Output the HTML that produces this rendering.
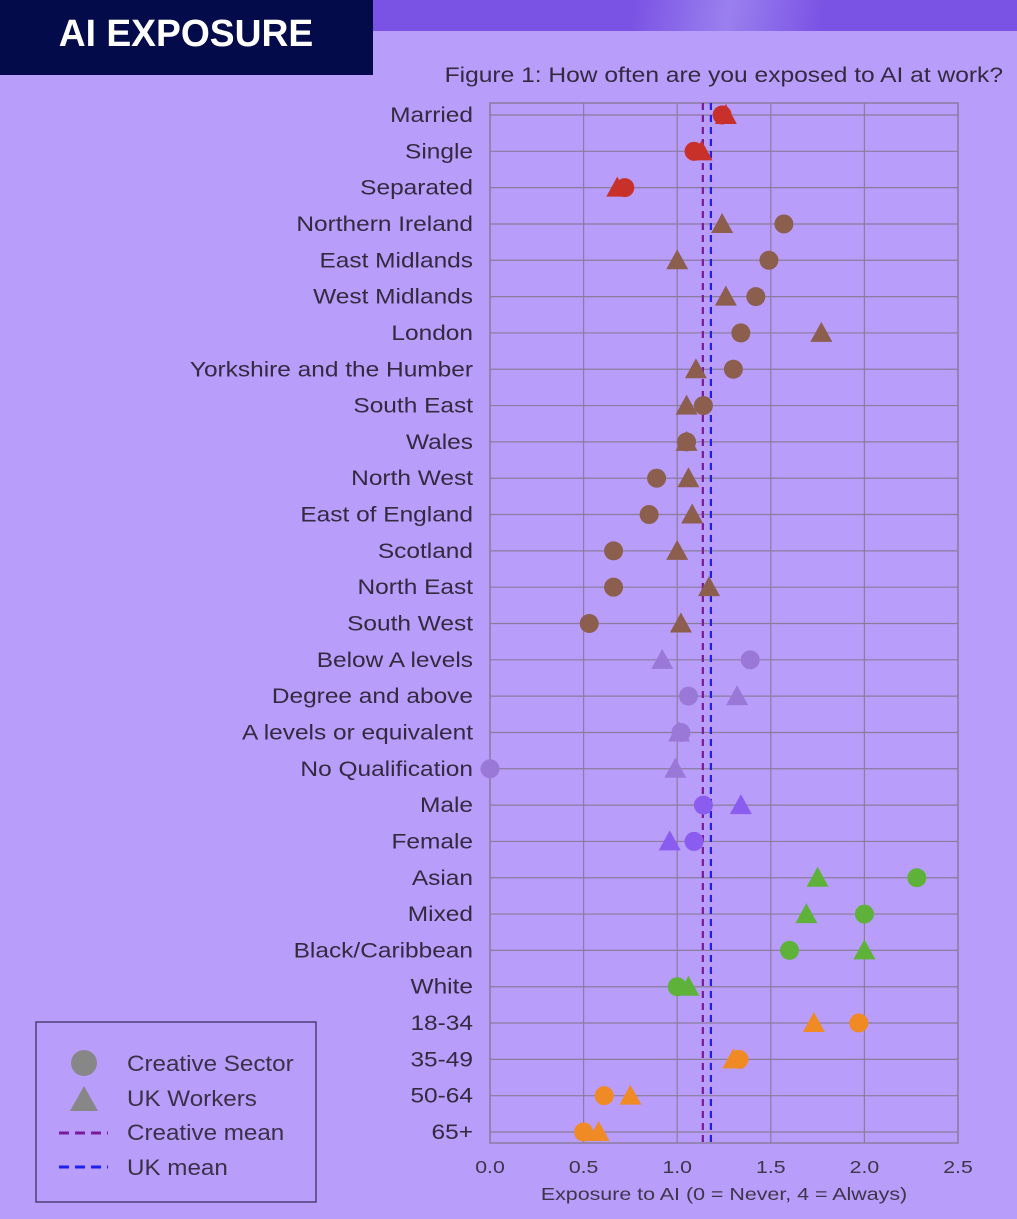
<!DOCTYPE html>
<html><head><meta charset="utf-8">
<style>
html,body{margin:0;padding:0;}
body{width:1017px;height:1219px;background:#b99dfa;position:relative;overflow:hidden;font-family:"Liberation Sans",sans-serif;}
#band{position:absolute;left:373px;top:0;width:644px;height:31px;background:linear-gradient(100deg,#7a52e4 0%,#7a52e4 40%,#9a80ee 55%,#7a52e4 70%,#7a52e4 100%);}
#hdr{position:absolute;left:0;top:0;width:373px;height:75px;background:#040b4a;}
svg{position:absolute;left:0;top:0;}
</style></head><body>
<div id="band"></div>
<div id="hdr"></div>
<svg id="chart" width="1017" height="1219"></svg>
<script>
const categories=["Married","Single","Separated","Northern Ireland","East Midlands","West Midlands","London","Yorkshire and the Humber","South East","Wales","North West","East of England","Scotland","North East","South West","Below A levels","Degree and above","A levels or equivalent","No Qualification","Male","Female","Asian","Mixed","Black/Caribbean","White","18-34","35-49","50-64","65+"];
const creativeValues=[1.24,1.09,0.72,1.57,1.49,1.42,1.34,1.30,1.14,1.05,0.89,0.85,0.66,0.66,0.53,1.39,1.06,1.02,0.00,1.14,1.09,2.28,2.00,1.60,1.00,1.97,1.33,0.61,0.50];
const ukValues=[1.26,1.13,0.68,1.24,1.00,1.26,1.77,1.10,1.05,1.05,1.06,1.08,1.00,1.17,1.02,0.92,1.32,1.01,0.99,1.34,0.96,1.75,1.69,2.00,1.06,1.73,1.30,0.75,0.58];
const groups=[0,0,0,1,1,1,1,1,1,1,1,1,1,1,1,2,2,2,2,3,3,4,4,4,4,5,5,5,5];
const groupColors=["#c8302a","#8b5e4e","#9a78d8","#8a5cf0","#5eb23a","#f08a24"];
const xTicks=[0,0.5,1.0,1.5,2.0,2.5];
const xTickLabels=["0.0","0.5","1.0","1.5","2.0","2.5"];
const creativeMean=1.137;
const ukMean=1.18;

const NS="http://www.w3.org/2000/svg";
const svg=document.getElementById('chart');
const L=490,R=958,T=103,B=1143,Y0=115,Y1=1132;
const xs=v=>L+(v-0)/(2.5-0)*(R-L);
const ys=i=>Y0+i*(Y1-Y0)/(categories.length-1);
function mk(t,a){const e=document.createElementNS(NS,t);for(const k in a)e.setAttribute(k,a[k]);svg.appendChild(e);return e;}
// text placed at (x,y) with horizontal stretch factor f
function txt(s,x,y,size,anchor,fill,f,weight){
  const t=mk('text',{x:0,y:0,'text-anchor':anchor,'font-size':size,fill:fill,transform:`translate(${x},${y}) scale(${f},1)`});
  if(weight)t.setAttribute('font-weight',weight);
  t.textContent=s;
  return t;
}

let e=txt("AI EXPOSURE",186,46,38,'middle','#ffffff',0.98,'bold');



e=txt("Figure 1: How often are you exposed to AI at work?",1003,82,21,'end','#332a40',1.17);



categories.forEach((c,i)=>{
  const g=mk('line',{x1:L,x2:R,y1:ys(i),y2:ys(i),stroke:'#8a7d9c','stroke-width':1.2});
  
  
  const t=txt(c,473,ys(i)+7,21,'end','#332a40',1.165);
  
  
});
xTicks.forEach((v,i)=>{
  const g=mk('line',{x1:xs(v),x2:xs(v),y1:T,y2:B,stroke:'#8a7d9c','stroke-width':1.2});
  
  
  const t=txt(xTickLabels[i],xs(v),1173,18,'middle','#3d3548',1.18);
  
  
});
e=mk('rect',{x:L,y:T,width:R-L,height:B-T,fill:'none',stroke:'#8a7d9c','stroke-width':1.5});


e=txt("Exposure to AI (0 = Never, 4 = Always)",724,1200,18,'middle','#3d3548',1.19);



e=mk('line',{x1:xs(creativeMean),x2:xs(creativeMean),y1:T,y2:B,stroke:'#7a1a9a','stroke-width':2.2,'stroke-dasharray':'7,5'});


e=mk('line',{x1:xs(ukMean),x2:xs(ukMean),y1:T,y2:B,stroke:'#1f1ff0','stroke-width':2.2,'stroke-dasharray':'7,5'});



categories.forEach((c,i)=>{
  const col=groupColors[groups[i]];
  const y=ys(i);
  const cx=xs(creativeValues[i]);
  const ci=mk('circle',{cx:cx,cy:y,r:9.5,fill:col});
  
  
  const tx=xs(ukValues[i]);
  const tr=mk('polygon',{points:`${tx},${y-11} ${tx-11},${y+9} ${tx+11},${y+9}`,fill:col});
  
  
});

e=mk('rect',{x:36,y:1022,width:280,height:180,fill:'none',stroke:'#3d3060','stroke-width':1.3});


e=mk('circle',{cx:84,cy:1063,r:13,fill:'#878787'});


e=mk('polygon',{points:'84,1086 70,1111 98,1111',fill:'#878787'});


e=mk('line',{x1:59,x2:108,y1:1133,y2:1133,stroke:'#7a1a9a','stroke-width':3,'stroke-dasharray':'10,6'});


e=mk('line',{x1:59,x2:108,y1:1167,y2:1167,stroke:'#1f1ff0','stroke-width':3,'stroke-dasharray':'10,6'});


[["Creative Sector",1071],["UK Workers",1106],["Creative mean",1140],["UK mean",1175]].forEach(([s,y])=>{
  const t=txt(s,127,y,22,'start','#3a3048',1.1);
  
  
});
</script>
</body></html>
